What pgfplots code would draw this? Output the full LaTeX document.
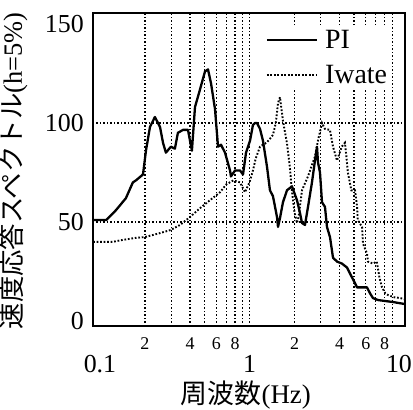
\documentclass[border=0pt]{standalone}
\usepackage{pgfplots}
\usepackage{pgfplotstable}
\pgfplotsset{compat=1.18}
\usepackage{fontspec}
\setmainfont{Liberation Serif}
\newfontfamily\cjk{Noto Sans CJK JP}

\pgfplotstableread{
f v
0.09 51
0.11 51
0.128 56
0.149 62
0.166 70
0.174 71
0.194 74
0.203 86
0.216 98
0.233 103
0.252 98
0.264 90
0.276 85
0.298 88
0.317 87
0.332 95
0.359 96.5
0.388 96.5
0.40 91
0.412 86
0.432 108
0.467 117
0.504 126
0.528 127
0.553 120
0.588 107
0.616 88
0.645 89
0.686 85
0.741 76
0.752 73
0.80 76
0.864 76
0.905 74
0.948 85
1.008 91
1.055 99
1.09 100
1.122 100
1.176 97
1.231 91
1.309 78
1.371 66
1.436 63
1.528 52.5
1.552 47.5
1.60 52
1.675 60
1.781 66
1.924 68
2.078 61
2.177 54.5
2.245 49.5
2.351 48.5
2.462 57.6
2.618 70
2.742 81
2.829 88
2.873 80
2.962 75
3.055 60
3.199 57.6
3.299 47.5
3.455 42.4
3.62 32
3.85 30
4.157 29
4.49 27
4.70 24
4.93 21
5.24 17
5.66 17
6.11 17
6.40 14
6.70 11.6
7.24 10.6
8.31 10
9.12 9.6
10.15 9
10.9 8.6
}\pidata

\pgfplotstableread{
f v
0.09 40
0.122 40
0.143 41
0.174 42
0.2 42.4
0.252 44.4
0.298 46
0.343 48.5
0.40 52.5
0.467 57
0.544 61
0.635 65
0.70 69
0.78 71
0.864 70
0.933 65
1.0 70
1.055 76
1.10 82
1.176 88
1.231 89
1.30 90
1.371 92
1.436 94
1.50 100
1.552 110
1.60 113
1.675 101
1.78 90
1.86 78
1.92 66
2.0 55
2.08 49.5
2.13 52.5
2.245 66
2.46 73
2.74 83
2.87 91
3.055 100
3.2 97
3.45 96.5
3.62 88
3.85 81
4.14 88
4.35 90
4.45 83
4.55 75
4.80 66
5.08 66
5.24 58
5.30 51
5.66 47.5
5.75 39
6.11 34
6.20 30
6.70 29
7.10 30
7.40 22
7.70 17
8.10 14
8.50 13
9.30 12
10.2 11.6
10.9 11
}\iwdata

\begin{document}
\begin{tikzpicture}
\begin{axis}[
  name=ax,
  xmode=log,
  scale only axis,
  width=312bp, height=313bp,
  xmin=0.0898, xmax=10.97,
  ymin=-2.5, ymax=155.5,
  axis line style={line width=1.9bp},
  major tick length=0pt, minor tick length=0pt,
  /pgf/number format/assume math mode=true,
  ytick={0,50,100,150},
  minor ytick={50,100},
  yminorgrids=true,
  xtick={0.2,0.4,0.6,0.8,2,4,6,8},
  xticklabels={2,4,6,8,2,4,6,8},
  minor xtick={0.2,0.3,0.4,0.5,0.6,0.7,0.8,0.9,1,2,3,4,5,6,7,8,9},
  xminorgrids=true,
  xmajorgrids=false, ymajorgrids=false,
  minor grid style={black, line width=1.3bp, dash pattern=on 1.3bp off 2.2bp},
  extra x ticks={0.1,1,10},
  extra x tick labels={0.1,1,10},
  extra x tick style={xmajorgrids=false, xticklabel style={font=\fontsize{26}{26}\selectfont, yshift=-18bp}},
  xticklabel style={font=\fontsize{18}{18}\selectfont, inner sep=0pt, yshift=-11bp},
  yticklabel style={font=\fontsize{26}{26}\selectfont, inner sep=0pt, xshift=-9bp},
  xlabel={{\cjk 周波数}(Hz)},
  ylabel={{\cjk 速度応答スペクトル}(h=5\%)},
  xlabel style={font=\fontsize{27}{27}\selectfont, at={(axis description cs:0.49,-0.222)}, anchor=center},
  ylabel style={font=\fontsize{26.5}{26.5}\selectfont, at={(axis description cs:-0.255,0.495)}, anchor=center, rotate=0},
  legend style={draw=none, fill=white, at={(axis description cs:0.55,0.955)}, anchor=north west,
    font=\fontsize{28}{28}\selectfont, row sep=11bp, column sep=5bp, inner sep=1bp, nodes={inner sep=2bp}},
  legend cell align=left,
  legend image code/.code={\draw (0bp,0bp) -- (50bp,0bp);},
]
\addplot[black, line width=2.3bp, line join=round] table[x=f,y=v] {\pidata};
\addlegendentry{PI}
\addplot[black, line width=1.9bp, dash pattern=on 1.7bp off 1.8bp] table[x=f,y=v] {\iwdata};
\addlegendentry{Iwate}
\end{axis}
\pgfresetboundingbox
\path[use as bounding box] (ax.south west) ++(-93bp,-84bp) rectangle ++(413bp,410bp);
\end{tikzpicture}
\end{document}
